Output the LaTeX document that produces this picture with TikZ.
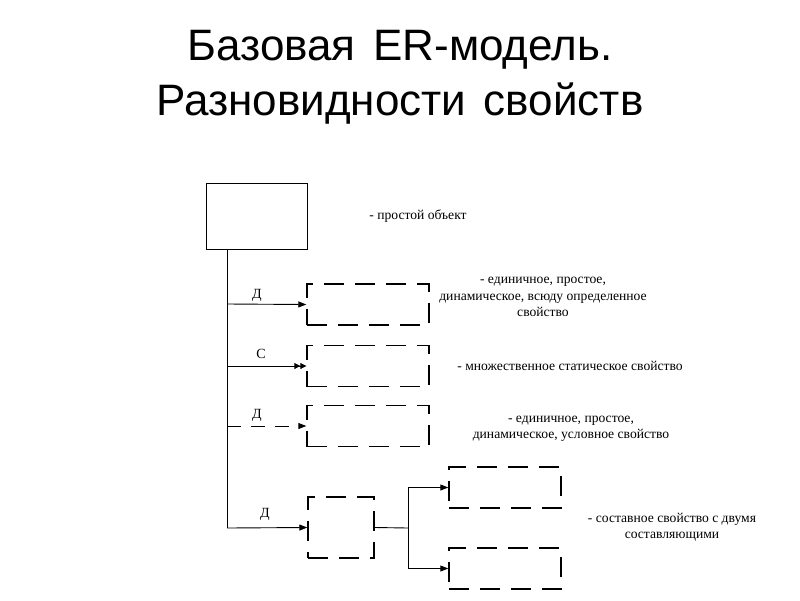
\documentclass[tikz,border=0pt]{standalone}
\usepackage{fontspec}
\setmainfont{Liberation Serif}
\newfontfamily\titlefont{Liberation Sans}
\usetikzlibrary{arrows.meta}
\begin{document}
\begin{tikzpicture}[x=1pt,y=-1pt,
  obj/.style={draw, line width=1pt, minimum width=101pt, minimum height=66pt, inner sep=0pt},
  prop/.style={draw, line width=1.4pt, dash pattern=on 20pt off 11pt, minimum width=122pt, minimum height=41pt, inner sep=0pt},
  conn/.style={line width=0.9pt, -{Triangle[length=8pt,width=6pt]}},
  plain/.style={line width=0.9pt},
  lbl/.style={font=\fontsize{13.6}{16.5}\selectfont, align=center, inner sep=0pt},
  tag/.style={font=\fontsize{14}{16}\selectfont, inner sep=0pt}
]
\useasboundingbox (0,0) rectangle (800,600);
\fill[white] (0,0) rectangle (800,600);
\node[font=\titlefont\fontsize{44}{55}\selectfont, align=center] (title) at (400,77) {Базовая\hspace{0.4em}ER-модель.\\Разновидности\hspace{0.4em}свойств};

\node[obj] (o) at (256.5,216) {};
\node[prop] (p1) at (368,304.5) {};
\node[prop] (p2) at (368,366) {};
\node[prop] (p3) at (368,426) {};
\node[prop, minimum width=66pt, minimum height=61pt] (p4) at (341,527.5) {};
\node[prop, minimum width=112pt, minimum height=41pt] (p5) at (505,487.5) {};
\node[prop, minimum width=112pt, minimum height=41pt] (p6) at (505,568.5) {};

\coordinate (t1) at (227,304);
\coordinate (t2) at (227,366);
\coordinate (t3) at (227,426);
\coordinate (t4) at (227,528);
\coordinate (j) at (408,528);

\draw[plain] (o.south -| t4) -- (t4);
\draw[conn] (t4) -- (p4.west);
\draw[conn] (t1) -- (p1.west);
\draw[plain, -{Triangle[length=6pt,width=6pt]Triangle[length=6pt,width=6pt]}] (t2) -- (p2.west);
\draw[conn, dash pattern=on 14pt off 10pt] (t3) -- (p3.west);
\draw[plain] (p4.east) -- (j);
\draw[conn] (j) |- (p5.west);
\draw[conn] (j) |- (p6.west);

\node[tag] (l1) at (257,295) {Д};
\node[tag] (l2) at (261,354) {С};
\node[tag] (l3) at (257,415) {Д};
\node[tag] (l4) at (265,514) {Д};

\node[lbl] (d0) at (418,216) {- простой объект};
\node[lbl] (d1) at (543,297) {- единичное, простое,\\динамическое, всюду определенное\\свойство};
\node[lbl] (d2) at (570,366) {- множественное статическое свойство};
\node[lbl] (d3) at (571,429) {- единичное, простое,\\динамическое, условное свойство};
\node[lbl] (d4) at (672,527) {- составное свойство с двумя\\составляющими};
\end{tikzpicture}
\end{document}
